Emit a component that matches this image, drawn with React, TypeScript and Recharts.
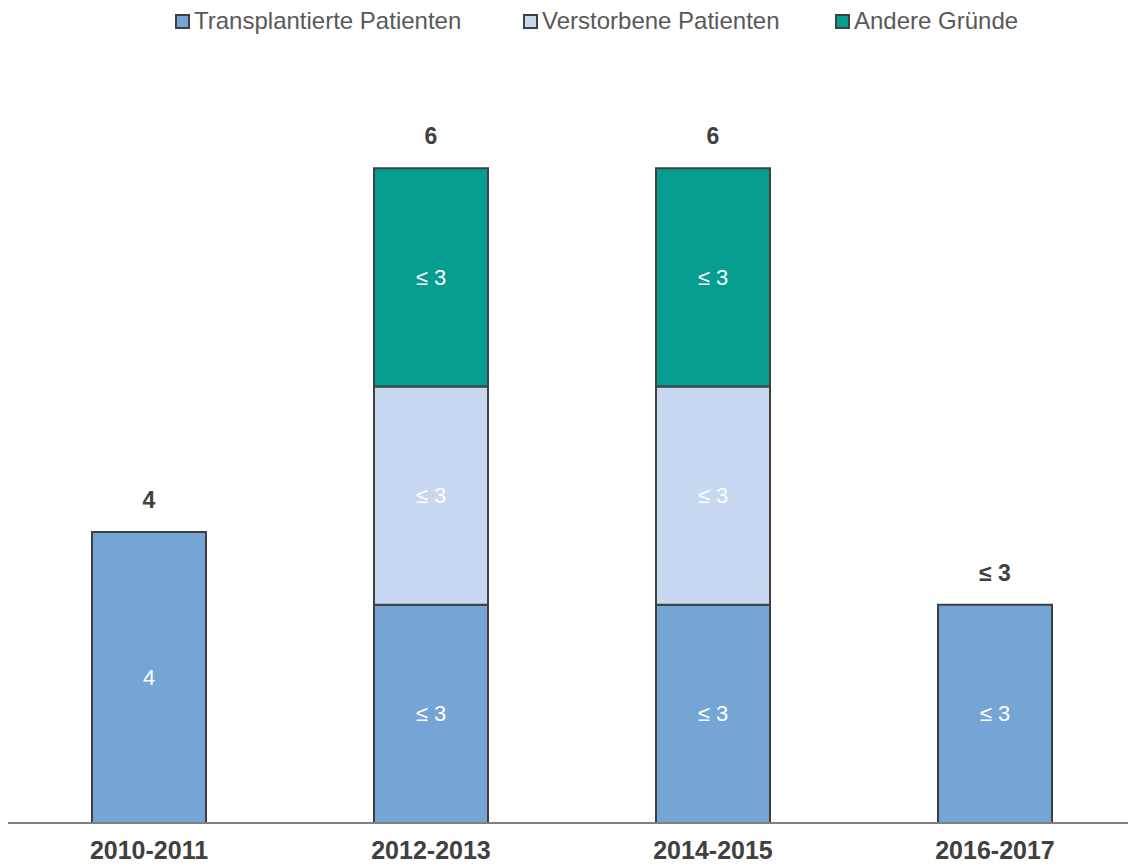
import { Bar, BarChart, LabelList, XAxis, YAxis } from "recharts";

const periods = ["2010-2011", "2012-2013", "2014-2015", "2016-2017"];
const transplantiert = [4, 3, 3, 3];
const verstorben = [0, 3, 3, 0];
const andere = [0, 3, 3, 0];
const transplantiertLabels = ["4", "≤ 3", "≤ 3", "≤ 3"];
const verstorbenLabels = ["", "≤ 3", "≤ 3", ""];
const andereLabels = ["", "≤ 3", "≤ 3", ""];
const totalLabels = ["4", "6", "6", "≤ 3"];

const series = [
  { key: "transplantiert", name: "Transplantierte Patienten", color: "#75A5D4", values: transplantiert, labels: transplantiertLabels, legendX: 175 },
  { key: "verstorben", name: "Verstorbene Patienten", color: "#C6D9F0", values: verstorben, labels: verstorbenLabels, legendX: 523 },
  { key: "andere", name: "Andere Gründe", color: "#049D8F", values: andere, labels: andereLabels, legendX: 835 },
];

// total label goes on the topmost non-zero segment of each column
const data = periods.map((p, i) => {
  const row: Record<string, string | number> = { period: p };
  let top = 0;
  series.forEach((s, k) => {
    row[s.key] = s.values[i];
    row[s.key + "Label"] = s.labels[i];
    row[s.key + "Total"] = "";
    if (s.values[i] > 0) top = k;
  });
  row[series[top].key + "Total"] = totalLabels[i];
  return row;
});

const FONT = "'Liberation Sans', Arial, sans-serif";

function InnerLabel(props: any) {
  const { x, y, width, height, value } = props;
  if (!value || !height) return null;
  return (
    <text
      x={x + width / 2}
      y={y + height / 2}
      textAnchor="middle"
      dominantBaseline="central"
      fill="#ffffff"
      fontSize={22}
      fontFamily={FONT}
    >
      {value}
    </text>
  );
}

function TotalLabel(props: any) {
  const { x, y, width, value } = props;
  if (!value) return null;
  return (
    <text
      x={x + width / 2}
      y={y - 32}
      textAnchor="middle"
      dominantBaseline="central"
      fill="#404040"
      fontSize={23}
      fontWeight="bold"
      fontFamily={FONT}
    >
      {value}
    </text>
  );
}

function LegendRow() {
  return (
    <>
      {series.map((s) => (
        <div
          key={s.key}
          style={{
            position: "absolute",
            left: s.legendX,
            top: 7,
            display: "flex",
            alignItems: "center",
            fontFamily: FONT,
            fontSize: 24,
            color: "#595959",
            lineHeight: "28px",
            whiteSpace: "nowrap",
          }}
        >
          <span
            style={{
              display: "inline-block",
              width: 11,
              height: 11,
              background: s.color,
              border: "2px solid #404040",
              marginRight: 4,
            }}
          />
          {s.name}
        </div>
      ))}
    </>
  );
}

export default function App() {
  return (
    <div style={{ position: "absolute", left: 0, top: 0, width: 1128, height: 867, overflow: "hidden", background: "#fff" }}>
      <LegendRow />
      <BarChart
        width={1136}
        height={867}
        data={data}
        margin={{ top: 95.5, right: 0, left: 8, bottom: 0 }}
        barCategoryGap={0}
      >
        <XAxis
          dataKey="period"
          height={44}
          tickLine={false}
          axisLine={{ stroke: "#808080", strokeWidth: 2 }}
          tick={{ fill: "#404040", fontSize: 25, fontWeight: "bold", fontFamily: FONT }}
          tickMargin={12}
        />
        <YAxis hide domain={[0, 10]} />
        {series.map((s) => (
          <Bar
            key={s.key}
            dataKey={s.key}
            name={s.name}
            stackId="a"
            fill={s.color}
            stroke="#404040"
            strokeWidth={2}
            barSize={114}
            isAnimationActive={false}
          >
            <LabelList dataKey={s.key + "Label"} content={InnerLabel} />
            <LabelList dataKey={s.key + "Total"} content={TotalLabel} />
          </Bar>
        ))}
      </BarChart>
    </div>
  );
}
